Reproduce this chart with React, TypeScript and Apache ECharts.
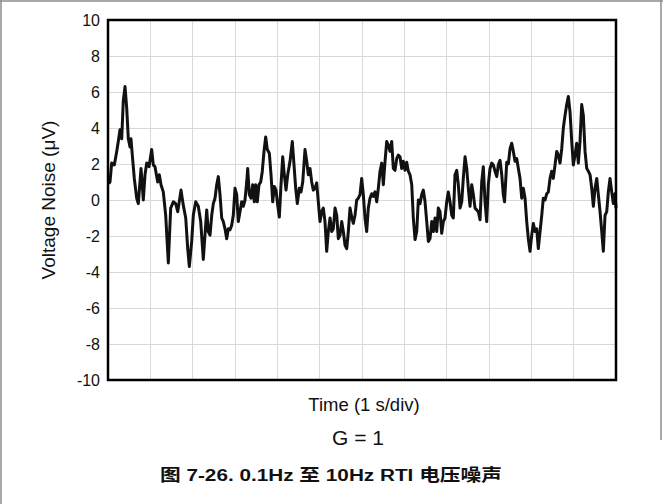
import React, { useEffect, useRef } from "react";
import * as echarts from "echarts";

// Time axis: 12 divisions, 1 s/div (tick labels hidden in the reference)
const timeMin = 0;
const timeMax = 12;
const timeStep = 1;

// Voltage axis (µV)
const voltMin = -10;
const voltMax = 10;
const voltStep = 2;

// Noise trace: [time (s), voltage noise (µV)]
const noiseTrace: [number, number][] = [
  [0.02, 0.9], [0.047, 1.0], [0.087, 2.05], [0.149, 1.95], [0.206, 2.7], [0.243, 3.25], [0.283, 3.9], [0.324, 3.4],
  [0.361, 5.5], [0.402, 6.3], [0.442, 5.1], [0.48, 3.4], [0.52, 2.95], [0.543, 3.4], [0.574, 2.5], [0.621, 1.2],
  [0.678, 0.1], [0.716, -0.2], [0.78, 1.75], [0.834, 0], [0.874, 1.4], [0.914, 2.05], [0.969, 1.85], [1.032, 2.8],
  [1.07, 1.95], [1.11, 1.85], [1.174, 1.0], [1.212, 1.4], [1.252, 0.85], [1.306, 0.45], [1.363, -0.85], [1.425, -3.5],
  [1.481, -0.45], [1.543, -0.1], [1.599, -0.2], [1.647, -0.65], [1.677, -0.2], [1.725, 0.55], [1.779, -0.3], [1.836, -1.0],
  [1.883, -2.7], [1.921, -3.7], [1.977, -2.3], [2.015, -0.85], [2.072, -0.1], [2.133, -0.35], [2.19, -1.2], [2.251, -3.3],
  [2.332, -0.55], [2.369, -1.75], [2.41, -1.95], [2.45, -0.85], [2.488, -0.2], [2.528, 0.1], [2.568, 0.85], [2.606, 1.3],
  [2.646, 0.3], [2.686, -1.0], [2.724, -1.2], [2.764, -1.6], [2.804, -2.15], [2.842, -1.6], [2.882, -1.65], [2.922, -1.4],
  [2.96, -0.85], [3.0, 0.65], [3.04, 0.3], [3.078, -1.2], [3.118, -0.65], [3.158, -0.1], [3.196, -0.35], [3.236, 0],
  [3.277, 1.0], [3.3, 1.75], [3.338, 0.3], [3.378, 0.1], [3.418, 0.85], [3.456, -0.1], [3.489, 0.85], [3.527, -0.1],
  [3.567, 0.85], [3.607, 1.0], [3.645, 1.6], [3.685, 2.7], [3.725, 3.5], [3.763, 2.8], [3.811, 2.6], [3.851, 1.4],
  [3.891, -0.1], [3.929, 0.75], [3.969, 0.55], [4.009, -0.3], [4.047, -0.95], [4.087, 0.85], [4.127, 2.4], [4.165, 1.4],
  [4.205, 0.55], [4.245, 1.4], [4.3, 2.15], [4.354, 3.25], [4.394, 1.95], [4.434, 0.65], [4.472, -0.2], [4.519, 0.65],
  [4.559, 0.45], [4.6, 1.0], [4.654, 2.8], [4.694, 2.15], [4.732, 1.4], [4.772, 1.75], [4.812, 1.0], [4.85, 0.55],
  [4.89, 0.65], [4.93, 0.95], [4.968, -0.1], [5.008, -1.2], [5.048, -0.65], [5.086, -0.45], [5.126, -1.2], [5.166, -2.85],
  [5.204, -1.75], [5.245, -1.0], [5.285, -1.75], [5.322, -1.6], [5.363, -0.45], [5.403, -0.85], [5.441, -2.15], [5.481, -1.95],
  [5.521, -1.2], [5.559, -1.75], [5.599, -2.5], [5.639, -2.7], [5.677, -1.75], [5.717, -0.45], [5.757, -0.95], [5.795, -1.3],
  [5.835, -0.85], [5.875, 0], [5.913, 0.1], [5.953, 0.3], [5.993, 1.2], [6.031, 0.3], [6.071, -1.0], [6.111, -1.75],
  [6.149, -0.45], [6.189, 0.1], [6.23, 0.35], [6.267, 0.2], [6.308, 0.45], [6.348, -0.1], [6.386, 0.65], [6.426, 1.6],
  [6.466, 2.05], [6.504, 0.85], [6.544, 2.15], [6.584, 3.25], [6.622, 3.05], [6.662, 2.7], [6.702, 3.25], [6.74, 1.75],
  [6.78, 1.65], [6.82, 2.3], [6.858, 2.5], [6.898, 2.4], [6.938, 1.75], [6.976, 2.15], [7.016, 1.65], [7.056, 2.1],
  [7.094, 1.6], [7.134, 1.4], [7.175, 0.85], [7.212, -1.0], [7.253, -2.2], [7.293, -1.75], [7.331, 0], [7.371, -0.2],
  [7.411, 0.3], [7.449, 0.55], [7.489, -0.1], [7.529, -1.2], [7.567, -2.3], [7.607, -2.15], [7.647, -1.2], [7.685, -1.75],
  [7.725, -1.0], [7.765, -1.75], [7.803, -0.45], [7.843, -0.65], [7.883, -1.85], [7.921, -1.2], [7.961, -1.0], [8.001, -0.1],
  [8.039, 0.45], [8.079, -0.1], [8.12, -0.85], [8.157, -1.0], [8.197, 1.4], [8.238, 1.65], [8.275, 0.85], [8.316, -0.45],
  [8.356, -0.1], [8.393, 1.2], [8.434, 2.4], [8.474, 1.75], [8.512, 0.65], [8.552, -0.35], [8.592, 0.85], [8.63, 0.3],
  [8.67, -0.45], [8.71, -0.55], [8.748, -0.65], [8.788, -1.1], [8.828, 1.0], [8.866, 1.85], [8.906, -0.1], [8.946, -1.2],
  [8.984, 0.85], [9.024, 1.75], [9.064, 2.05], [9.102, 1.95], [9.142, 1.6], [9.183, 1.3], [9.22, 1.95], [9.261, 2.2],
  [9.301, 1.4], [9.338, 0.3], [9.367, -0.1], [9.419, 2.1], [9.457, 2.0], [9.497, 2.85], [9.537, 3.15], [9.575, 2.7],
  [9.615, 2.15], [9.655, 2.3], [9.693, 1.75], [9.733, 1.2], [9.773, 0.1], [9.811, 0.65], [9.851, 0.1], [9.891, -1.2],
  [9.929, -2.15], [9.969, -2.85], [10.009, -1.95], [10.047, -1.3], [10.087, -1.75], [10.127, -1.6], [10.165, -2.7], [10.206, -1.75],
  [10.246, -0.85], [10.283, 0.1], [10.324, 0], [10.364, 0.35], [10.402, 0.45], [10.442, 1.2], [10.482, 1.6], [10.52, 1.2],
  [10.56, 1.95], [10.6, 2.7], [10.638, 2.5], [10.678, 2.05], [10.718, 2.85], [10.756, 4.0], [10.796, 4.7], [10.836, 5.3],
  [10.874, 5.75], [10.914, 4.9], [10.954, 3.25], [10.992, 1.95], [11.032, 2.5], [11.072, 3.15], [11.11, 2.05], [11.15, 3.25],
  [11.19, 5.3], [11.228, 4.7], [11.269, 2.7], [11.309, 1.75], [11.347, 1.6], [11.387, 1.4], [11.427, 0.65], [11.465, -0.35],
  [11.505, 0.65], [11.545, 1.2], [11.583, 0.3], [11.623, -0.65], [11.663, -1.75], [11.701, -2.85], [11.741, -0.85], [11.781, -0.65],
  [11.819, 0.45], [11.859, 1.2], [11.899, 0.45], [11.937, -0.2], [11.977, 0.35], [12.0, -0.45],
];

const yAxisTitle = "Voltage Noise (\u03bcV)";
const xAxisTitle = "Time (1 s/div)";
const gainLabel = "G = 1";
const captionText = "图 7-26. 0.1Hz 至 10Hz RTI 电压噪声";

const FONT = "'Liberation Sans', Arial, 'Noto Sans CJK SC', sans-serif";

const GRID = { left: 108, top: 20, width: 508, height: 360 };

export default function App() {
  const ref = useRef<HTMLDivElement>(null);

  useEffect(() => {
    if (!ref.current) return;
    const chart = echarts.init(ref.current, null, { renderer: "svg" });
    chart.setOption({
      animation: false,
      backgroundColor: "#ffffff",
      textStyle: { fontFamily: FONT },
      grid: { ...GRID, show: false },
      xAxis: {
        type: "value",
        min: timeMin,
        max: timeMax,
        interval: timeStep,
        axisLine: { show: false },
        axisTick: { show: false },
        axisLabel: { show: false },
        splitLine: { show: true, lineStyle: { color: "#d9d9d9", width: 1 } },
      },
      yAxis: {
        type: "value",
        min: voltMin,
        max: voltMax,
        interval: voltStep,
        axisLine: { show: false },
        axisTick: { show: false },
        axisLabel: { color: "#111", fontSize: 16, fontFamily: FONT, margin: 8 },
        splitLine: { show: true, lineStyle: { color: "#d9d9d9", width: 1 } },
      },
      series: [
        {
          type: "line",
          data: noiseTrace,
          showSymbol: false,
          symbol: "none",
          lineStyle: { color: "#111111", width: 3, join: "round" },
          z: 3,
        },
      ],
      graphic: [
        { type: "line", shape: { x1: 0, y1: 1, x2: 663, y2: 1 }, style: { stroke: "#8c8c8c", lineWidth: 1.5 } },
        { type: "line", shape: { x1: 1, y1: 0, x2: 1, y2: 504 }, style: { stroke: "#8c8c8c", lineWidth: 1.5 } },
        { type: "line", shape: { x1: 661, y1: 0, x2: 661, y2: 440 }, style: { stroke: "#8c8c8c", lineWidth: 1.5 } },
        {
          type: "rect",
          z: 100,
          shape: { x: GRID.left, y: GRID.top, width: GRID.width, height: GRID.height },
          style: { fill: "none", stroke: "#000", lineWidth: 2.5 },
        },
        {
          type: "text",
          x: 48,
          y: 200,
          rotation: Math.PI / 2,
          style: { text: yAxisTitle, fill: "#111", font: `19px ${FONT}`, align: "center", verticalAlign: "middle" },
        },
        {
          type: "text",
          x: 364,
          y: 404,
          style: { text: xAxisTitle, fill: "#111", font: `18.5px ${FONT}`, align: "center", verticalAlign: "middle" },
        },
        {
          type: "text",
          x: 358,
          y: 437,
          style: { text: gainLabel, fill: "#111", font: `21px ${FONT}`, align: "center", verticalAlign: "middle" },
        },
        {
          type: "text",
          x: 331,
          y: 475,
          scaleX: 1.22,
          style: { text: captionText, fill: "#111", font: `bold 17px ${FONT}`, align: "center", verticalAlign: "middle" },
        },
      ],
    });
    return () => chart.dispose();
  }, []);

  return (
    <div
      ref={ref}
      style={{ position: "fixed", left: 0, top: 0, width: 663, height: 504, background: "#fff" }}
    />
  );
}
